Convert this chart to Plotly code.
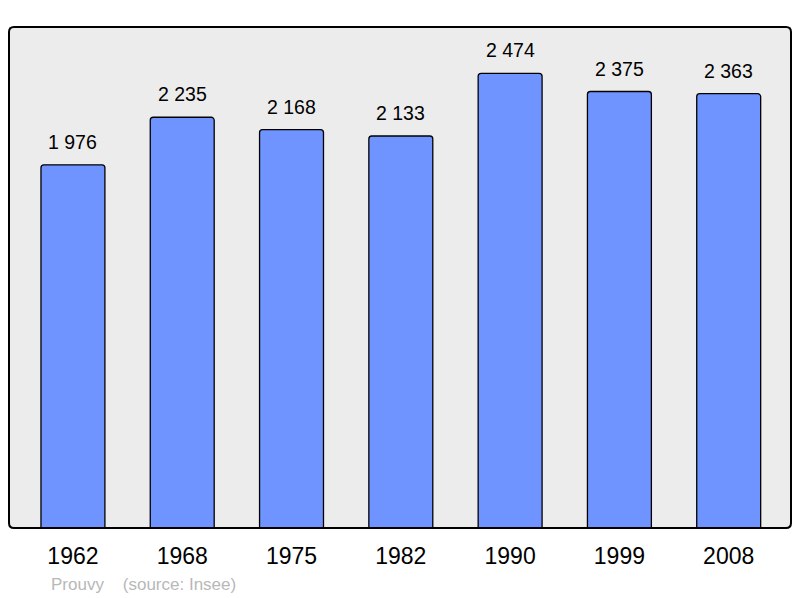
import plotly.graph_objects as go

years = ["1962", "1968", "1975", "1982", "1990", "1999", "2008"]
population = [1976, 2235, 2168, 2133, 2474, 2375, 2363]
labels = ["1 976", "2 235", "2 168", "2 133", "2 474", "2 375", "2 363"]

xpos = list(range(len(years)))
FONT = "Liberation Sans, Arial, sans-serif"

fig = go.Figure()
fig.add_trace(go.Bar(
    x=xpos, y=population, width=0.585,
    marker=dict(color="#7094ff", line=dict(color="#000000", width=1.3), cornerradius=3),
    hoverinfo="skip",
))

for xi, yi, lab in zip(xpos, population, labels):
    fig.add_annotation(x=xi, y=yi, text=lab, showarrow=False, yanchor="middle", yshift=23,
                       font=dict(family=FONT, size=19.5, color="#000000"))

# page body has an 8px offset; compensate
W, H = 792, 590
l, r, t, b = 1, 9, 19, 70
pw, ph = W - l - r, H - t - b
rx, ry = 5 / pw, 5 / ph
path = (f"M {rx},0 L {1-rx},0 Q 1,0 1,{ry} L 1,{1-ry} Q 1,1 {1-rx},1 "
        f"L {rx},1 Q 0,1 0,{1-ry} L 0,{ry} Q 0,0 {rx},0 Z")
fig.add_shape(type="path", path=path, xref="paper", yref="paper",
              line=dict(color="#000000", width=2), layer="above")

fx, fy = 41, 576
fig.add_annotation(x=(fx - l) / pw, y=(H - b - fy) / ph, xref="paper", yref="paper",
                   text="Prouvy&nbsp;&nbsp;&nbsp;&nbsp;(source: Insee)",
                   showarrow=False, xanchor="left", yanchor="middle",
                   font=dict(family=FONT, size=17, color="#b8b8b8"))

fig.update_layout(
    width=W, height=H,
    margin=dict(l=l, r=r, t=t, b=b),
    paper_bgcolor="#ffffff", plot_bgcolor="#ececec",
    showlegend=False,
    xaxis=dict(range=[-0.585, 6.57], tickvals=xpos, ticktext=years, showgrid=False, zeroline=False,
               showline=False, ticks="", ticklabelstandoff=12,
               tickfont=dict(family=FONT, size=23, color="#000000")),
    yaxis=dict(range=[0, 2726], visible=False, showgrid=False, zeroline=False),
)

fig.write_html("out.html")
